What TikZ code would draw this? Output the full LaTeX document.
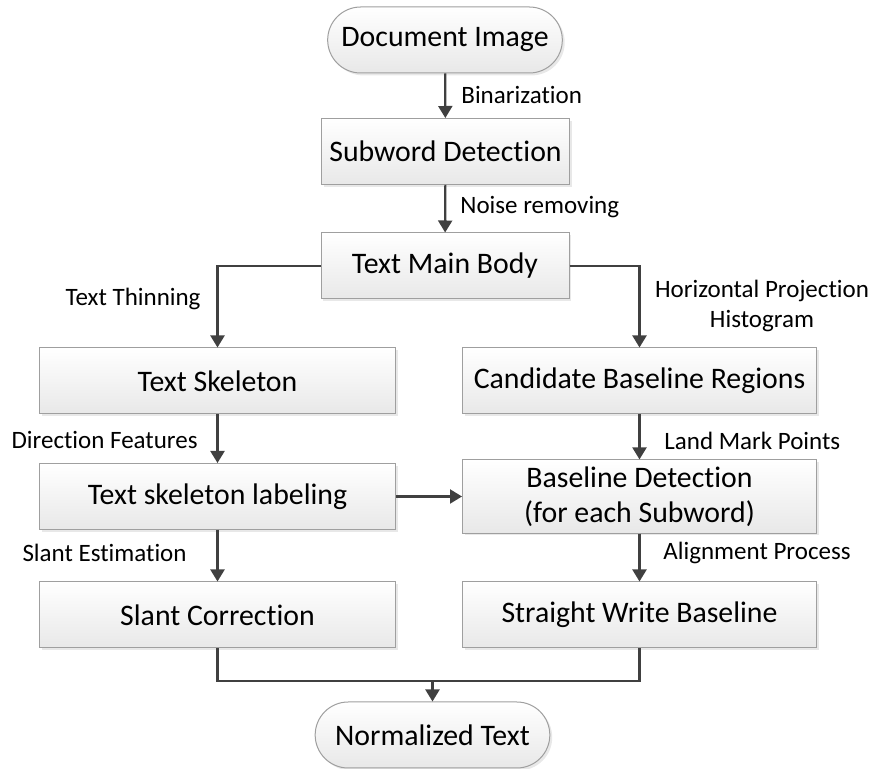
\documentclass[tikz,border=0pt]{standalone}
\usepackage{fontspec}
\setmainfont{Carlito}[Ligatures = NoCommon]
\usepackage{tikz}
\usetikzlibrary{arrows.meta,positioning,shapes,shadows,calc}

\begin{document}
\begin{tikzpicture}[x = .5pt, y = -.5pt,
  box/.style = {rectangle, draw = gray!75, line width = .5pt, top color = white, bottom color = gray!18,
    drop shadow = {shadow xshift = 1.2pt, shadow yshift = -1.2pt, fill = gray!35},
    minimum height = 33pt, font = \fontsize{14.9}{17.5}\selectfont, align = center},
  term/.style = {box, rounded rectangle, minimum width = 124pt},
  lbl/.style = {font = \fontsize{12.5}{15}\selectfont, inner sep = 0pt, align = center},
  arr/.style = {-{Triangle[length = 6pt, width = 7pt]}, line width = 1.1pt, draw = black!75},
  line/.style = {line width = 1.1pt, draw = black!75}]
\useasboundingbox (0,0) rectangle (875,769);
% main column
\node[term] (doc) at (445,40) {Document Image};
\node[box, minimum width = 124pt] (sub) at (445.5,151.5) {Subword Detection};
\node[box, minimum width = 124pt] (body) at (445,266) {Text Main Body};
% left column
\node[box, minimum width = 178pt] (skel) at (217.5,381) {Text Skeleton};
\node[box, minimum width = 178pt] (skellab) at (217.5,496.5) {Text skeleton labeling};
\node[box, minimum width = 178pt] (slant) at (217.5,615) {Slant Correction};
% right column
\node[box, minimum width = 177pt] (cand) at (639.5,381) {Candidate Baseline Regions};
\node[box, minimum width = 177pt] (base) at (639.5,496.5) {Baseline Detection\\(for each Subword)};
\node[box, minimum width = 177pt] (straight) at (639.5,615) {Straight Write Baseline};
\node[term] (norm) at (432.5,735) {Normalized Text};
\coordinate (join) at (432.5,681);
% labels
\node[lbl, anchor = west] (binlbl) at (461,95) {Binarization};
\node[lbl, anchor = west] (noiselbl) at (460,207) {Noise removing};
\node[lbl, anchor = east] (thinlbl) at (201,299) {Text Thinning};
\node[lbl] (projlbl) at (762,306) {Horizontal Projection\\Histogram};
\node[lbl, anchor = east] (dirlbl) at (198,440) {Direction Features};
\node[lbl, anchor = west] (marklbl) at (664,441) {Land Mark Points};
\node[lbl, anchor = east] (estlbl) at (187,553) {Slant Estimation};
\node[lbl, anchor = west] (alignlbl) at (663,553) {Alignment Process};
% connectors
\draw[arr] (doc) -- (sub);
\draw[arr] (sub) -- (body);
\draw[arr] (body.west) -| (skel.north);
\draw[arr] (body.east) -| (cand.north);
\draw[arr] (skel) -- (skellab);
\draw[arr] (skellab) -- (slant);
\draw[arr] (cand) -- (base);
\draw[arr] (base) -- (straight);
\draw[arr] (skellab) -- (base);
\draw[line] (slant.south) |- (join);
\draw[line] (straight.south) |- (join);
\draw[arr] (join) -- (norm.north);
\end{tikzpicture}
\end{document}
